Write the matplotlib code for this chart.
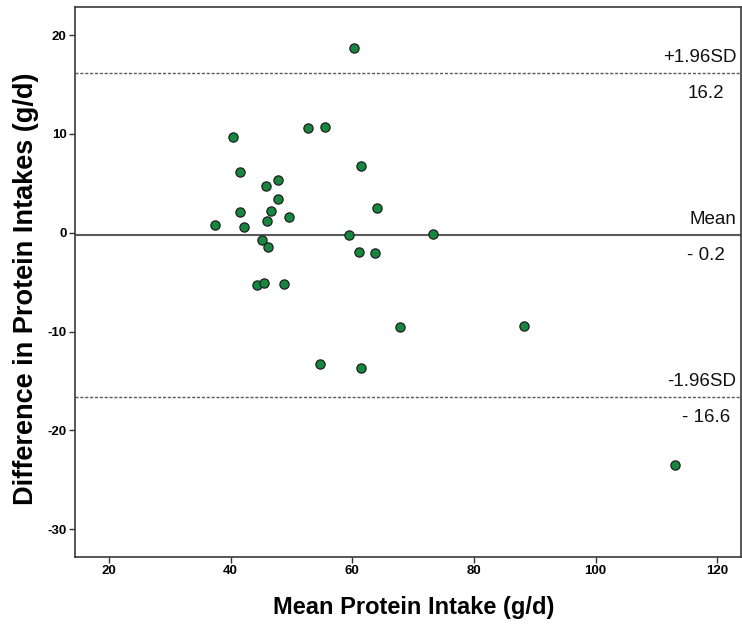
import matplotlib.pyplot as plt
import matplotlib.transforms as mtransforms
from matplotlib import font_manager

# Bland-Altman data: mean of the two methods vs their difference (g/d)
mean_intake = [40.4, 52.7, 55.5, 41.6, 61.4, 47.7, 45.8, 47.8, 64.1, 41.5,
               46.6, 49.6, 37.4, 45.9, 42.2, 59.5, 73.2, 45.2, 46.1, 61.1,
               63.7, 44.3, 45.5, 48.7, 60.2, 54.7, 61.4, 67.8, 88.3, 113.1]
diff_intake = [9.7, 10.6, 10.7, 6.2, 6.8, 5.3, 4.7, 3.4, 2.5, 2.1,
               2.2, 1.55, 0.8, 1.2, 0.55, -0.25, -0.1, -0.7, -1.4, -1.9,
               -2.1, -5.25, -5.05, -5.15, 18.7, -13.3, -13.7, -9.5, -9.45, -23.5]

mean_diff = -0.2
upper_loa = 16.2
lower_loa = -16.6

x_ticks = [20, 40, 60, 80, 100, 120]
y_ticks = [-30, -20, -10, 0, 10, 20]

installed = {f.name for f in font_manager.fontManager.ttflist}
family = 'Liberation Sans' if 'Liberation Sans' in installed else 'DejaVu Sans'
plt.rcParams['font.family'] = [family, 'DejaVu Sans']
plt.rcParams['axes.unicode_minus'] = False

fig = plt.figure(figsize=(7.42, 6.26), dpi=100)
ax = fig.add_axes([0.1007, 0.1107, 0.898, 0.878])

ax.scatter(mean_intake, diff_intake, s=44, color='#17873f',
           edgecolor='#1e1e1e', linewidth=0.9, zorder=3)

ax.axhline(mean_diff, color='#5a5a5a', linewidth=1.5, zorder=2)
for lim in (upper_loa, lower_loa):
    ax.axhline(lim, color='#5a5a5a', linewidth=1.0, dashes=(2.2, 1.3), zorder=2)

ax.set_xlim(14.36, 123.9)
ax.set_ylim(-32.8, 22.85)
ax.set_xticks(x_ticks)
ax.set_yticks(y_ticks)
ax.tick_params(direction='out', length=4.5, width=1.0, color='#333333',
               pad=1.5, labelsize=9.5)
for lbl in ax.get_xticklabels() + ax.get_yticklabels():
    lbl.set_fontweight('bold')

for side in ('left', 'bottom', 'top', 'right'):
    ax.spines[side].set_color('#3a3a3a')
    ax.spines[side].set_linewidth(1.2)

ax.set_xlabel('Mean Protein Intake (g/d)', fontsize=17, fontweight='bold')
ax.set_ylabel('Difference in Protein Intakes (g/d)', fontsize=19.5,
              fontweight='bold')
ax.xaxis.set_label_coords(0.509, -0.072)
ax.yaxis.set_label_coords(-0.053, 0.487)

# line captions on the right: name above each line, value below it
trans = mtransforms.blended_transform_factory(ax.transAxes, ax.transData)
label_x = 0.993
value_x = 0.947
captions = [('+1.96SD', '16.2', upper_loa),
            ('Mean', '- 0.2', mean_diff),
            ('-1.96SD', '- 16.6', lower_loa)]
for name, value, yv in captions:
    ax.annotate(name, xy=(label_x, yv), xycoords=trans, xytext=(0, 5),
                textcoords='offset points', ha='right', va='bottom',
                fontsize=13.5, color='#111111')
    ax.annotate(value, xy=(value_x, yv), xycoords=trans, xytext=(0, -9),
                textcoords='offset points', ha='center', va='top',
                fontsize=13.5, color='#111111')

fig.savefig('out.png', dpi=100, facecolor='white')
